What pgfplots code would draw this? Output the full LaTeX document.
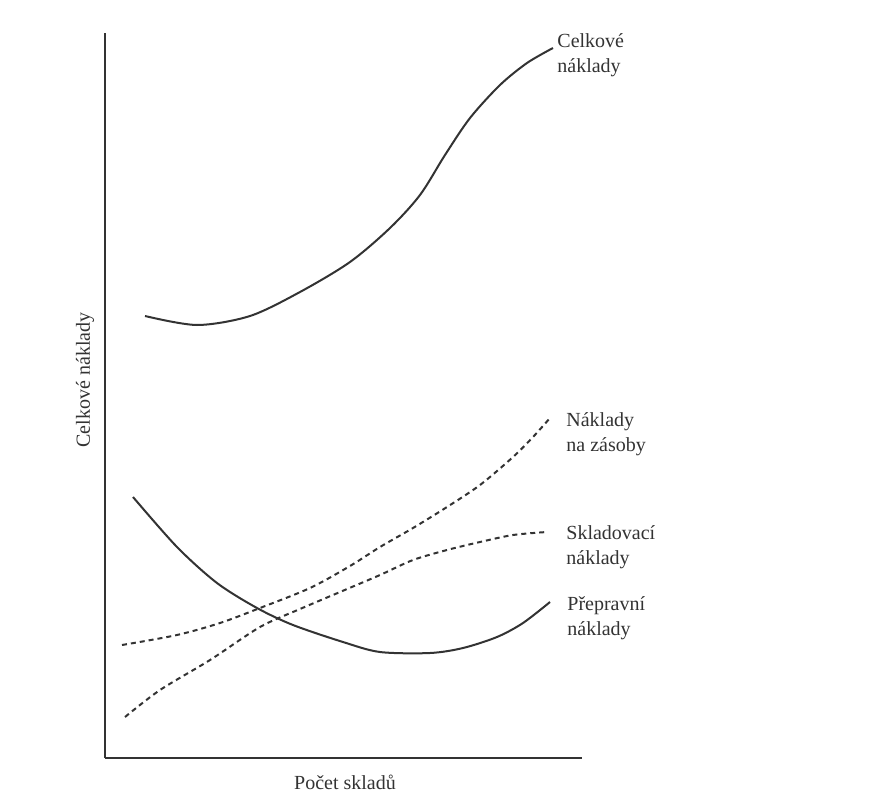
\documentclass[border=0pt]{standalone}
\usepackage{pgfplots}
\pgfplotsset{compat=1.18}
\usepackage{fontspec}
\setmainfont{Liberation Serif}
\definecolor{ink}{HTML}{333333}
\begin{document}
\begin{tikzpicture}[x=0.5pt,y=0.5pt]
\useasboundingbox (0,0) rectangle (881,804);
\begin{axis}[
  at={(105*0.5pt,46*0.5pt)}, anchor=origin,
  scale only axis, width=238.5pt, height=362.5pt,
  xmin=105, xmax=582, ymin=46, ymax=771,
  axis lines*=left, axis line style={ink, line width=1pt, -},
  ticks=none, clip=false,
  every axis plot/.append style={ink, line width=1pt},
]
% Celkove naklady
\addplot[smooth] coordinates {(145,488) (197,479) (250,488) (300,512) (350,542) (390,576) (420,609) (445,649) (470,686) (500,719) (527,741) (553,756)};
% Prepravni naklady
\addplot[smooth] coordinates {(133,307) (177,257) (217,221) (257,196) (293,179) (343,162) (380,152) (430,151) (463,156) (497,167) (523,181) (550,202)};
% Naklady na zasoby
\addplot[smooth, dash pattern=on 2.5pt off 2pt] coordinates {(122,159) (177,169) (220,181) (260,196) (310,216) (350,238) (380,257) (413,276) (447,297) (480,319) (513,347) (533,367) (550,386)};
% Skladovaci naklady
\addplot[smooth, dash pattern=on 2.5pt off 2pt] coordinates {(125,87) (160,114) (210,144) (260,177) (300,195) (340,212) (380,229) (413,244) (447,254) (480,262) (513,269) (547,272)};
\node[anchor=north west, align=left, text=ink, font=\fontsize{10}{12.5}\selectfont, inner sep=0pt] at (axis cs:557,771) {Celkové\\náklady};
\node[anchor=north west, align=left, text=ink, font=\fontsize{10}{12.5}\selectfont, inner sep=0pt] at (axis cs:566,392) {Náklady\\na zásoby};
\node[anchor=north west, align=left, text=ink, font=\fontsize{10}{12.5}\selectfont, inner sep=0pt] at (axis cs:566,279) {Skladovací\\náklady};
\node[anchor=north west, align=left, text=ink, font=\fontsize{10}{12.5}\selectfont, inner sep=0pt] at (axis cs:567,208) {Přepravní\\náklady};
\node[rotate=90, text=ink, font=\fontsize{10}{12}\selectfont] at (axis cs:85,424) {Celkové náklady};
\node[text=ink, font=\fontsize{10}{12}\selectfont] at (axis cs:345,22) {Počet skladů};
\end{axis}
\end{tikzpicture}
\end{document}
